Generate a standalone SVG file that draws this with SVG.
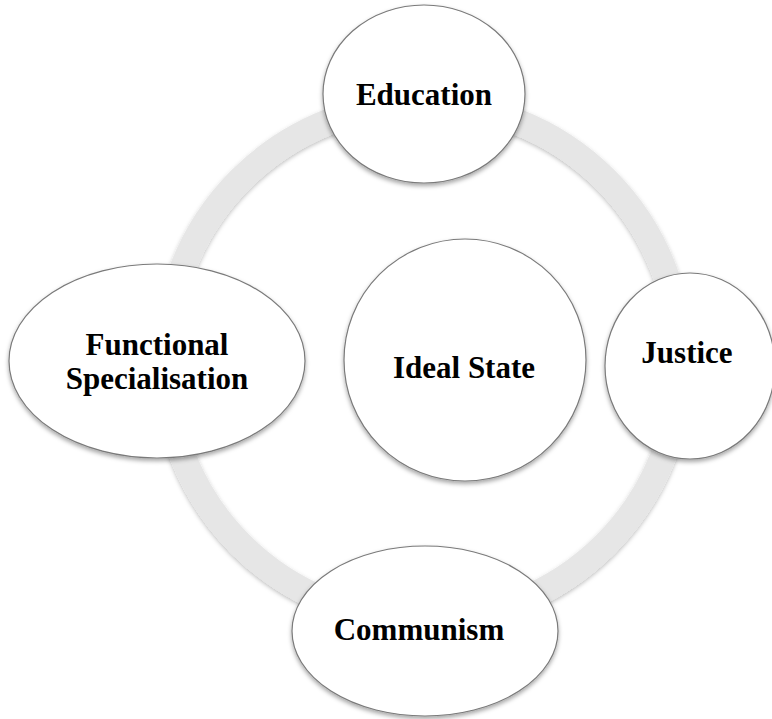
<svg xmlns="http://www.w3.org/2000/svg" width="772" height="719" viewBox="0 0 772 719">
  <style>
    .node { fill: #ffffff; stroke: #7a7a7a; stroke-width: 1.2; filter: url(#nodeShadow); }
    .label { font-family: "Liberation Serif", "Times New Roman", serif; font-weight: bold; font-size: 31px; fill: #000000; text-anchor: middle; }
    .ring { fill: none; stroke: #e6e6e6; stroke-width: 26; filter: url(#ringShadow); }
  </style>
  <defs>
    <filter id="nodeShadow" x="-10%" y="-10%" width="120%" height="125%">
      <feDropShadow dx="0" dy="2.5" stdDeviation="2" flood-color="#000000" flood-opacity="0.35"/>
    </filter>
    <filter id="ringShadow" x="-10%" y="-10%" width="120%" height="120%">
      <feDropShadow dx="0" dy="2" stdDeviation="2" flood-color="#000000" flood-opacity="0.25"/>
    </filter>
  </defs>

  <rect width="772" height="719" fill="#ffffff"/>

  <!-- circular connector linking the outer nodes -->
  <g id="connectors">
    <circle class="ring" cx="423" cy="362" r="258"/>
  </g>

  <g id="node-education">
    <ellipse class="node" cx="424" cy="94" rx="101" ry="89"/>
    <text class="label" x="424" y="105">Education</text>
  </g>

  <g id="node-functional-specialisation">
    <ellipse class="node" cx="157" cy="361" rx="148" ry="97"/>
    <text class="label" x="157" y="355">Functional</text>
    <text class="label" x="157" y="389">Specialisation</text>
  </g>

  <g id="node-ideal-state">
    <circle class="node" cx="465" cy="360" r="121"/>
    <text class="label" x="464" y="378">Ideal State</text>
  </g>

  <g id="node-justice">
    <ellipse class="node" cx="690" cy="366" rx="85" ry="93"/>
    <text class="label" x="687" y="363">Justice</text>
  </g>

  <g id="node-communism">
    <ellipse class="node" cx="425" cy="631" rx="133" ry="85"/>
    <text class="label" x="419" y="640">Communism</text>
  </g>
</svg>
